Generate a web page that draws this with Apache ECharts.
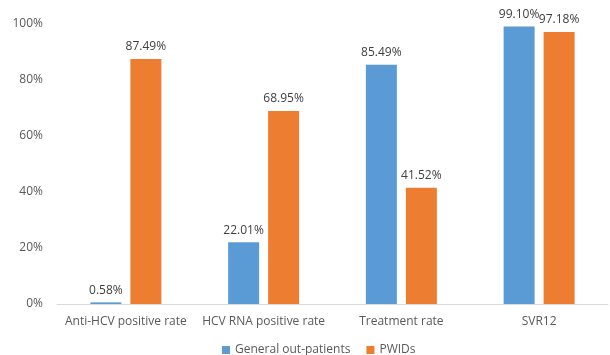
<!DOCTYPE html>
<html><head><meta charset="utf-8">
<script src="https://cdn.jsdelivr.net/npm/echarts@6/dist/echarts.min.js"></script>
<style>html,body{margin:0;padding:0;background:#fff}#c{width:610px;height:355px}</style>
</head><body><div id="c"></div>
<script>
const categories = ["Anti-HCV positive rate", "HCV RNA positive rate", "Treatment rate", "SVR12"];
const generalOutpatients = [0.58, 22.01, 85.49, 99.10];
const pwids = [87.49, 68.95, 41.52, 97.18];
const yTicks = [0, 20, 40, 60, 80, 100];

const font = "'Open Sans', 'Liberation Sans', sans-serif";
const chart = echarts.init(document.getElementById('c'));
const lbl = {show: true, position: 'top', distance: 6, color: '#404040', fontSize: 12, fontFamily: font,
  formatter: p => p.value.toFixed(2) + '%'};
chart.setOption({
  animation: false,
  grid: {left: 57, right: 2, top: 24, bottom: 51},
  legend: {top: 344, left: 222, itemWidth: 8, itemHeight: 8, itemGap: 16, icon: 'rect',
    padding: 0,
    textStyle: {color: '#595959', fontSize: 12, fontFamily: font},
    data: ['General out-patients', 'PWIDs']},
  xAxis: {type: 'category', data: categories,
    axisLine: {lineStyle: {color: '#d9d9d9', width: 1}}, axisTick: {show: false},
    axisLabel: {color: '#595959', fontSize: 12, fontFamily: font, margin: 12, interval: 0}},
  yAxis: {type: 'value', min: yTicks[0], max: yTicks[yTicks.length-1], interval: 20,
    splitLine: {show: false}, axisLine: {show: false}, axisTick: {show: false},
    axisLabel: {color: '#595959', fontSize: 12, fontFamily: font, formatter: v => v + '%', margin: 14}},
  series: [
    {name: 'General out-patients', type: 'bar', data: generalOutpatients, barWidth: 31, barGap: '29%',
      itemStyle: {color: '#5B9BD5'}, label: lbl},
    {name: 'PWIDs', type: 'bar', data: pwids, barWidth: 31,
      itemStyle: {color: '#ED7D31'}, label: lbl}
  ]
});
</script></body></html>
